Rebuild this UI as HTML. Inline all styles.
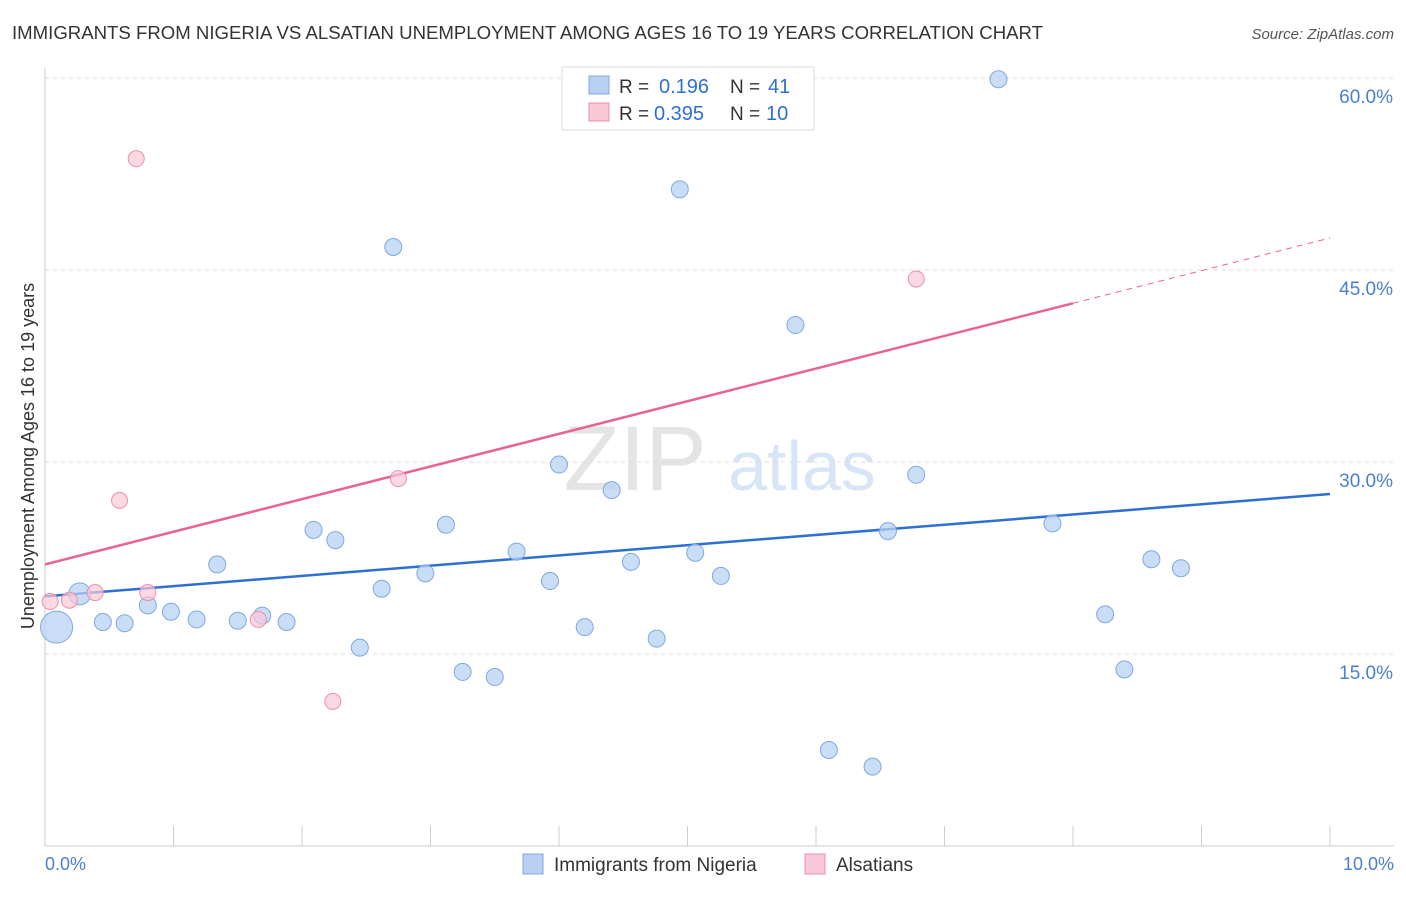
<!DOCTYPE html>
<html><head><meta charset="utf-8">
<style>
body{margin:0;background:#fff;font-family:"Liberation Sans",sans-serif;}
svg text{font-family:"Liberation Sans",sans-serif;}
</style></head>
<body>
<svg id="chart" width="1406" height="892" xmlns="http://www.w3.org/2000/svg">
<text x="12" y="39" font-size="18" fill="#333" textLength="1031" lengthAdjust="spacingAndGlyphs">IMMIGRANTS FROM NIGERIA VS ALSATIAN UNEMPLOYMENT AMONG AGES 16 TO 19 YEARS CORRELATION CHART</text>
<text x="1394" y="39" font-size="15" fill="#555" text-anchor="end" font-style="italic">Source: ZipAtlas.com</text>
<g>
<text x="635" y="490" font-size="92" fill="#e4e4e4" text-anchor="middle" font-family="Liberation Serif">ZIP</text>
<text x="802" y="490" font-size="70" fill="#d8e5f6" text-anchor="middle">atlas</text>
</g>
<g id="grid"></g>
<g id="axes"></g>
<g id="lines"></g>
<g id="points"></g>
<text transform="translate(34,456) rotate(-90)" font-size="18" fill="#333" text-anchor="middle">Unemployment Among Ages 16 to 19 years</text>
<text x="45" y="870" font-size="18" fill="#4a7fd4">0.0%</text>
<text x="1394" y="870" font-size="18" fill="#4a7fd4" text-anchor="end">10.0%</text>
<g>
<rect x="562" y="67" width="252" height="63" fill="#fff" stroke="#ddd"/>
<rect x="589" y="76" width="20" height="18" fill="#b8d1f3" stroke="#7fa9e0"/>
<text x="619" y="93" font-size="19" fill="#333">R =</text>
<text x="659" y="93" font-size="20" fill="#2e6fd4">0.196</text>
<text x="730" y="93" font-size="19" fill="#333">N =</text>
<text x="768" y="93" font-size="20" fill="#2e6fd4">41</text>
<rect x="589" y="103" width="20" height="18" fill="#f9c8d6" stroke="#eb8fab"/>
<text x="619" y="120" font-size="19" fill="#333">R =</text>
<text x="654" y="120" font-size="20" fill="#2e6fd4">0.395</text>
<text x="730" y="120" font-size="19" fill="#333">N =</text>
<text x="766" y="120" font-size="20" fill="#2e6fd4">10</text>
</g>
<g>
<rect x="523" y="854" width="20" height="20" fill="#b8d1f3" stroke="#7fa9e0"/>
<text x="554" y="871" font-size="19" fill="#333">Immigrants from Nigeria</text>
<rect x="805" y="854" width="20" height="20" fill="#f9c8d6" stroke="#eb8fab"/>
<text x="836" y="871" font-size="19" fill="#333">Alsatians</text>
</g>
</svg>
<script>
const yTicks=[15,30,45,60];
const yTickLabels=["15.0%","30.0%","45.0%","60.0%"];
const xTicks=[0,1,2,3,4,5,6,7,8,9,10];
const nigeriaX=[0.09,0.27,0.45,0.62,0.80,0.98,1.18,1.34,1.50,1.69,1.88,2.09,2.26,2.45,2.62,2.71,2.96,3.12,3.25,3.50,3.67,3.93,4.00,4.20,4.41,4.56,4.76,4.94,5.06,5.26,5.84,6.10,6.44,6.56,6.78,7.42,7.84,8.25,8.40,8.61,8.84];
const nigeriaY=[17.1,19.7,17.5,17.4,18.8,18.3,17.7,22.0,17.6,18.0,17.5,24.7,23.9,15.5,20.1,46.8,21.3,25.1,13.6,13.2,23.0,20.7,29.8,17.1,27.8,22.2,16.2,51.3,22.9,21.1,40.7,7.5,6.2,24.6,29.0,59.9,25.2,18.1,13.8,22.4,21.7];
const nigeriaSize=[3,2,1,1,1,1,1,1,1,1,1,1,1,1,1,1,1,1,1,1,1,1,1,1,1,1,1,1,1,1,1,1,1,1,1,1,1,1,1,1,1];
const alsatianX=[0.04,0.19,0.39,0.58,0.71,0.80,1.66,2.24,2.75,6.78];
const alsatianY=[19.1,19.2,19.8,27.0,53.7,19.8,17.7,11.3,28.7,44.3];
const nigeriaTrend=[19.5,27.5];
const alsatianTrend=[22.0,47.5];
const alsatianSolidEnd=8.0;

const NS="http://www.w3.org/2000/svg";
const X=v=>45+v*128.5;
const Y=v=>846-v*12.8;
function mk(tag,attrs,parent){const e=document.createElementNS(NS,tag);for(const k in attrs)e.setAttribute(k,attrs[k]);document.getElementById(parent).appendChild(e);return e;}

yTicks.forEach((t,i)=>{
 const g=mk('line',{x1:45,x2:1394,y1:Y(t),y2:Y(t),stroke:'#ddd','stroke-dasharray':'4,4'},'grid');
 
 
 const l=mk('text',{x:1393,y:Y(t)+25,'font-size':19,fill:'#4a7fd4','text-anchor':'end'},'grid');
 l.textContent=yTickLabels[i];
 
 
});
const ya=mk('line',{x1:45,x2:45,y1:68,y2:846,stroke:'#ccc'},'axes');


const xa=mk('line',{x1:45,x2:1394,y1:846,y2:846,stroke:'#ccc'},'axes');


xTicks.forEach(t=>{
 const k=mk('line',{x1:X(t),x2:X(t),y1:826,y2:846,stroke:'#ccc'},'axes');
 
 
});
const bl=mk('line',{x1:X(0),y1:Y(nigeriaTrend[0]),x2:X(10),y2:Y(nigeriaTrend[1]),stroke:'#2e6fd4','stroke-width':2.5},'lines');


const pm=v=>alsatianTrend[0]+(alsatianTrend[1]-alsatianTrend[0])*v/10;
const pl=mk('line',{x1:X(0),y1:Y(pm(0)),x2:X(alsatianSolidEnd),y2:Y(pm(alsatianSolidEnd)),stroke:'#e8648d','stroke-width':2.5},'lines');


const pd=mk('line',{x1:X(alsatianSolidEnd),y1:Y(pm(alsatianSolidEnd)),x2:X(10),y2:Y(pm(10)),stroke:'#e8648d','stroke-width':1,'stroke-dasharray':'6,5'},'lines');


const rs={1:8.5,2:11,3:16};
nigeriaX.forEach((v,i)=>{
 const c=mk('circle',{cx:X(v),cy:Y(nigeriaY[i]),r:rs[nigeriaSize[i]],fill:'#b8d1f3','fill-opacity':0.75,stroke:'#7fa9e0','stroke-width':1},'points');
 
 
});
alsatianX.forEach((v,i)=>{
 const c=mk('circle',{cx:X(v),cy:Y(alsatianY[i]),r:8,fill:'#f9c8d6','fill-opacity':0.7,stroke:'#eb8fab','stroke-width':1},'points');
 
 
});
</script>
</body></html>
